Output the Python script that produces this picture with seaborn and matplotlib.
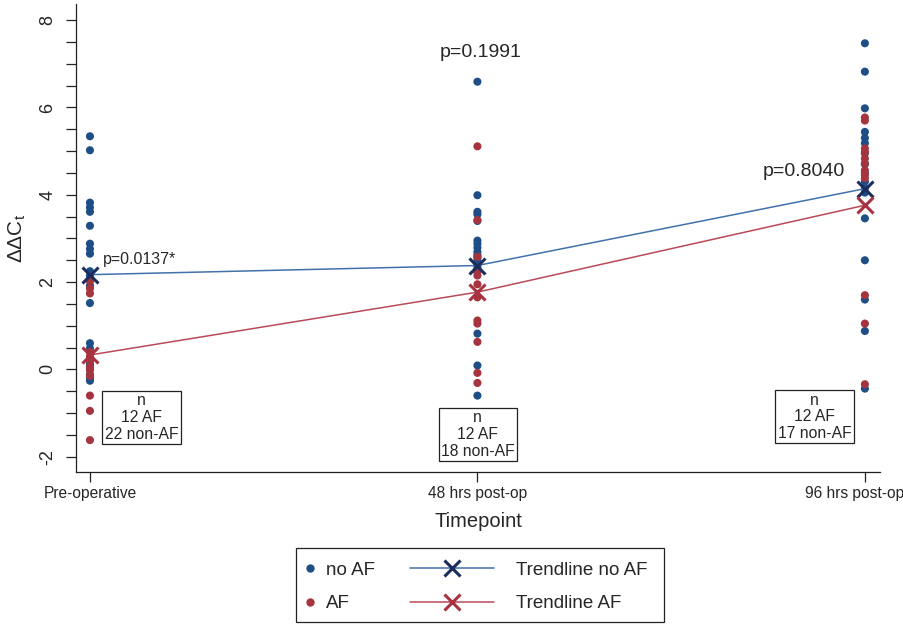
import numpy as np
import pandas as pd
import matplotlib
matplotlib.use("Agg")
import matplotlib.pyplot as plt
import seaborn as sns
from matplotlib.lines import Line2D
from matplotlib.patches import Rectangle
from matplotlib.ticker import MultipleLocator
from matplotlib.transforms import ScaledTranslation

# values
timepoints = ["Pre-operative", "48 hrs post-op", "96 hrs post-op"]

preop_noaf = [5.34, 5.02, 3.82, 3.71, 3.61, 3.29, 2.88, 2.76, 2.65, 2.25, 2.15,
              2.05, 1.92, 1.52, 0.60, 0.48, 0.25, 0.12, 0.02, -0.12, -0.20, -0.26]
preop_af = [2.02, 1.85, 1.74, 0.40, 0.30, 0.20, 0.06, -0.02, -0.15, -0.60, -0.95, -1.62]

h48_noaf = [6.59, 3.99, 3.61, 3.55, 3.40, 2.95, 2.88, 2.79, 2.69, 2.62, 2.55,
            2.48, 2.42, 2.36, 2.30, 0.82, 0.09, -0.60]
h48_af = [5.11, 3.42, 2.58, 2.23, 2.15, 1.95, 1.65, 1.12, 1.05, 0.63, -0.08, -0.31]

h96_noaf = [7.47, 6.82, 5.98, 5.44, 5.30, 5.18, 4.95, 4.70, 4.50, 4.30, 4.15,
            4.05, 3.46, 2.50, 1.60, 0.88, -0.44]
h96_af = [5.77, 5.70, 5.06, 4.98, 4.83, 4.72, 4.56, 4.45, 4.38, 1.70, 1.05, -0.34]

trend_noaf = [2.17, 2.38, 4.14]
trend_af = [0.33, 1.77, 3.76]

p_values = ["p=0.0137*", "p=0.1991", "p=0.8040"]
n_af = [12, 12, 12]
n_noaf = [22, 18, 17]

# long form table
rows = []
for i, (noaf, af) in enumerate([(preop_noaf, preop_af), (h48_noaf, h48_af), (h96_noaf, h96_af)]):
    rows += [(i, v, "no AF") for v in noaf]
    rows += [(i, v, "AF") for v in af]
df = pd.DataFrame(rows, columns=["pos", "ddct", "group"])
trend = pd.DataFrame({"pos": [0, 1, 2], "noaf": trend_noaf, "af": trend_af})

blue = "#1d4f86"
red = "#a5343f"
blue_line = "#4172ab"
blue_x = "#1b2d5c"
red_line = "#b94a5a"
red_x = "#a8323f"

sns.set_style("white")
plt.rcParams["font.family"] = ["Liberation Sans", "DejaVu Sans"]
plt.rcParams["mathtext.default"] = "regular"
plt.rcParams["axes.unicode_minus"] = False

fig = plt.figure(figsize=(9.04, 6.25), dpi=100)
ax = fig.add_axes([76 / 904, 1 - 472 / 625, (880 - 76) / 904, (472 - 4) / 625])

sns.scatterplot(data=df, x="pos", y="ddct", hue="group", hue_order=["no AF", "AF"],
                palette={"no AF": blue, "AF": red}, s=34, edgecolor="none",
                legend=False, ax=ax, zorder=2)

sns.lineplot(data=trend, x="pos", y="noaf", color=blue_line, lw=1.1, marker="x",
             markersize=11, markeredgewidth=2.2, markeredgecolor=blue_x,
             ax=ax, zorder=3)
sns.lineplot(data=trend, x="pos", y="af", color=red_line, lw=1.1, marker="x",
             markersize=11, markeredgewidth=2.2, markeredgecolor=red_x,
             ax=ax, zorder=3)

ax.set_xlim(-0.036, 2.039)
ax.set_ylim(-2.35, 8.37)
ax.set_xticks([0, 1, 2])
ax.set_xticklabels(timepoints, fontsize=11.2)
ax.yaxis.set_major_locator(MultipleLocator(2))
ax.yaxis.set_minor_locator(MultipleLocator(0.5))
ax.tick_params(axis="both", which="both", direction="out", length=7, width=0.9,
               color="#222222", bottom=True, left=True)
ax.tick_params(axis="y", which="major", labelsize=13, labelrotation=90, pad=7)
ax.tick_params(axis="x", pad=3)
for lab in ax.get_yticklabels():
    lab.set_va("center")
# last category label is pulled in a little so it stays inside the figure
last = ax.get_xticklabels()[-1]
last.set_transform(last.get_transform() + ScaledTranslation(-0.1, 0, fig.dpi_scale_trans))

ax.set_xlabel("Timepoint", fontsize=14.5, labelpad=8)
ax.set_ylabel("ΔΔC$_t$", fontsize=15, labelpad=8)

for side in ["top", "right"]:
    ax.spines[side].set_visible(False)
for side in ["left", "bottom"]:
    ax.spines[side].set_color("#222222")
    ax.spines[side].set_linewidth(0.9)

# p-values
ax.text(0.034, 2.52, p_values[0], fontsize=11.5, ha="left", va="center")
ax.text(1.009, 7.27, p_values[1], fontsize=14, ha="center", va="center")
ax.text(1.948, 4.53, p_values[2], fontsize=14, ha="right", va="center")

# n boxes
box_pos = [(0.133, -0.55), (1.001, -0.94), (1.870, -0.53)]
for (bx, by), a, b in zip(box_pos, n_af, n_noaf):
    ax.text(bx, by, f"n\n{a} AF\n{b} non-AF", fontsize=11.3, ha="center", va="top",
            linespacing=1.15,
            bbox=dict(boxstyle="square,pad=0.15", fc="white", ec="#222222", lw=0.9))

# legend: two columns inside one frame
dot_handles = [Line2D([], [], ls="none", marker="o", ms=6, mfc=blue, mec="none"),
               Line2D([], [], ls="none", marker="o", ms=6, mfc=red, mec="none")]
line_handles = [Line2D([], [], color=blue_line, lw=1.1, marker="x", ms=11, mew=2.2, mec=blue_x),
                Line2D([], [], color=red_line, lw=1.1, marker="x", ms=11, mew=2.2, mec=red_x)]
kw = dict(frameon=False, fontsize=13.5, borderpad=0, borderaxespad=0,
          labelspacing=0.85, loc="center left")
fig.legend(dot_handles, ["no AF", "AF"], handlelength=0.6, handletextpad=0.55,
           bbox_to_anchor=(304 / 904, 1 - 587 / 625), **kw)
fig.legend(line_handles, ["Trendline no AF", "Trendline AF"], handlelength=4.5,
           handletextpad=1.15, bbox_to_anchor=(410 / 904, 1 - 587 / 625), **kw)
fig.patches.append(Rectangle((296 / 904, 1 - 622 / 625), 368 / 904, 74 / 625,
                             transform=fig.transFigure, fill=False, ec="#222222", lw=0.9))

fig.savefig("out.png", dpi=100)
